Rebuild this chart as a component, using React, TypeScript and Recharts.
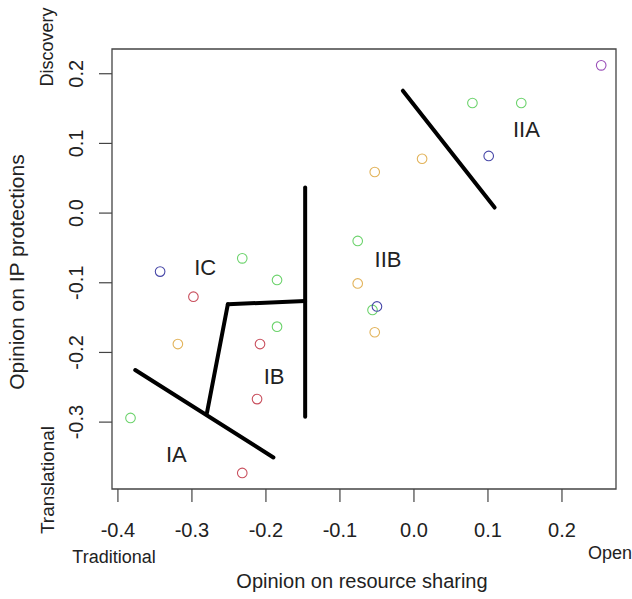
import { ScatterChart, Scatter, XAxis, YAxis, ReferenceLine, ReferenceArea } from "recharts";

const xTicks = [-0.4, -0.3, -0.2, -0.1, 0, 0.1, 0.2];
const yTicks = [-0.3, -0.2, -0.1, 0, 0.1, 0.2];

// respondents
const pointX = [0.253, 0.079, 0.145, 0.101, 0.011, -0.053, -0.076, -0.076, -0.056, -0.05, -0.053, -0.343, -0.232, -0.185, -0.298, -0.185, -0.319, -0.208, -0.212, -0.383, -0.232];
const pointY = [0.212, 0.158, 0.158, 0.082, 0.078, 0.059, -0.04, -0.101, -0.139, -0.134, -0.171, -0.084, -0.065, -0.096, -0.12, -0.163, -0.188, -0.188, -0.267, -0.294, -0.373];
const pointGroup = ["purple", "green", "green", "blue", "orange", "orange", "green", "orange", "green", "blue", "orange", "blue", "green", "green", "red", "green", "orange", "red", "red", "green", "red"];

// hand-drawn boundaries
const segX1 = [-0.015, -0.147, -0.2515, -0.2515, -0.3766];
const segY1 = [0.1756, 0.0366, -0.1309, -0.1309, -0.2253];
const segX2 = [0.109, -0.147, -0.147, -0.2797, -0.1899];
const segY2 = [0.008, -0.2924, -0.1262, -0.2866, -0.3507];

const regionNames = ["IIA", "IIB", "IC", "IB", "IA"];
const regionX = [0.152, -0.035, -0.282, -0.189, -0.321];
const regionY = [0.1195, -0.067, -0.078, -0.234, -0.347];

const colors: Record<string, string> = {
  green: "#6cd36c",
  orange: "#e2b35a",
  red: "#c9505e",
  blue: "#4848a8",
  purple: "#9a4fb8",
};

const font = "'Liberation Sans', Arial, sans-serif";
const xDomain = [-0.408, 0.273];
const yDomain = [-0.396, 0.2355];

const points = pointX.map((x, i) => ({ x, y: pointY[i], group: pointGroup[i] }));
const regions = regionNames.map((name, i) => ({ x: regionX[i], y: regionY[i], name }));

const fmt = (v: number) => v.toFixed(1);

const XTick = (props: any) => (
  <text x={props.x} y={530} textAnchor="middle" dominantBaseline="central" fontSize={20} fill="#222" fontFamily={font}>
    {fmt(props.payload.value)}
  </text>
);

const YTick = (props: any) => (
  <text
    x={76}
    y={props.y}
    transform={`rotate(-90, 76, ${props.y})`}
    textAnchor="middle"
    dominantBaseline="central"
    fontSize={20}
    fill="#222"
    fontFamily={font}
  >
    {fmt(props.payload.value)}
  </text>
);

const Ring = (props: any) => (
  <circle cx={props.cx} cy={props.cy} r={4.8} fill="none" stroke={colors[props.payload.group]} strokeWidth={1.1} />
);

const RegionLabel = (props: any) => (
  <text x={props.cx} y={props.cy} textAnchor="middle" dominantBaseline="central" fontSize={22} fill="#222" fontFamily={font}>
    {props.payload.name}
  </text>
);

const sideText = (label: string, x: number, y: number, size: number, rotate = false) => (
  <text
    x={x}
    y={y}
    transform={rotate ? `rotate(-90, ${x}, ${y})` : undefined}
    textAnchor="middle"
    dominantBaseline="central"
    fontSize={size}
    fill="#222"
    fontFamily={font}
  >
    {label}
  </text>
);

export default function App() {
  return (
    <div style={{ position: "absolute", left: 0, top: 0, width: 632, height: 599, background: "#fff" }}>
      <ScatterChart width={632} height={599} margin={{ top: 49, right: 16, bottom: 0, left: 0 }}>
        <XAxis
          type="number"
          dataKey="x"
          domain={xDomain}
          ticks={xTicks}
          allowDataOverflow
          height={110}
          axisLine={false}
          tickSize={13}
          tickMargin={0}
          tickLine={{ stroke: "#444", strokeWidth: 1.2 }}
          tick={<XTick />}
          interval={0}
        />
        <YAxis
          type="number"
          dataKey="y"
          domain={yDomain}
          ticks={yTicks}
          allowDataOverflow
          width={112}
          axisLine={false}
          tickSize={13}
          tickMargin={0}
          tickLine={{ stroke: "#444", strokeWidth: 1.2 }}
          tick={<YTick />}
          interval={0}
        />
        <ReferenceArea
          x1={xDomain[0]}
          x2={xDomain[1]}
          y1={yDomain[0]}
          y2={yDomain[1]}
          fill="none"
          stroke="#444"
          strokeWidth={1.3}
          fillOpacity={0}
        />
        {segX1.map((x1, i) => (
          <ReferenceLine
            key={i}
            segment={[
              { x: x1, y: segY1[i] },
              { x: segX2[i], y: segY2[i] },
            ]}
            stroke="#000"
            strokeWidth={4}
            strokeLinecap="round"
          />
        ))}
        <Scatter data={points} shape={<Ring />} isAnimationActive={false} />
        <Scatter data={regions} shape={<RegionLabel />} isAnimationActive={false} />
      </ScatterChart>
      <svg width={632} height={599} style={{ position: "absolute", left: 0, top: 0, pointerEvents: "none" }}>
        {sideText("Opinion on resource sharing", 362, 581, 20)}
        {sideText("Traditional", 114, 557, 18)}
        {sideText("Open", 610, 553, 18)}
        {sideText("Opinion on IP protections", 16, 272, 21, true)}
        {sideText("Discovery", 47, 47, 18, true)}
        {sideText("Translational", 47, 480, 19, true)}
      </svg>
    </div>
  );
}
